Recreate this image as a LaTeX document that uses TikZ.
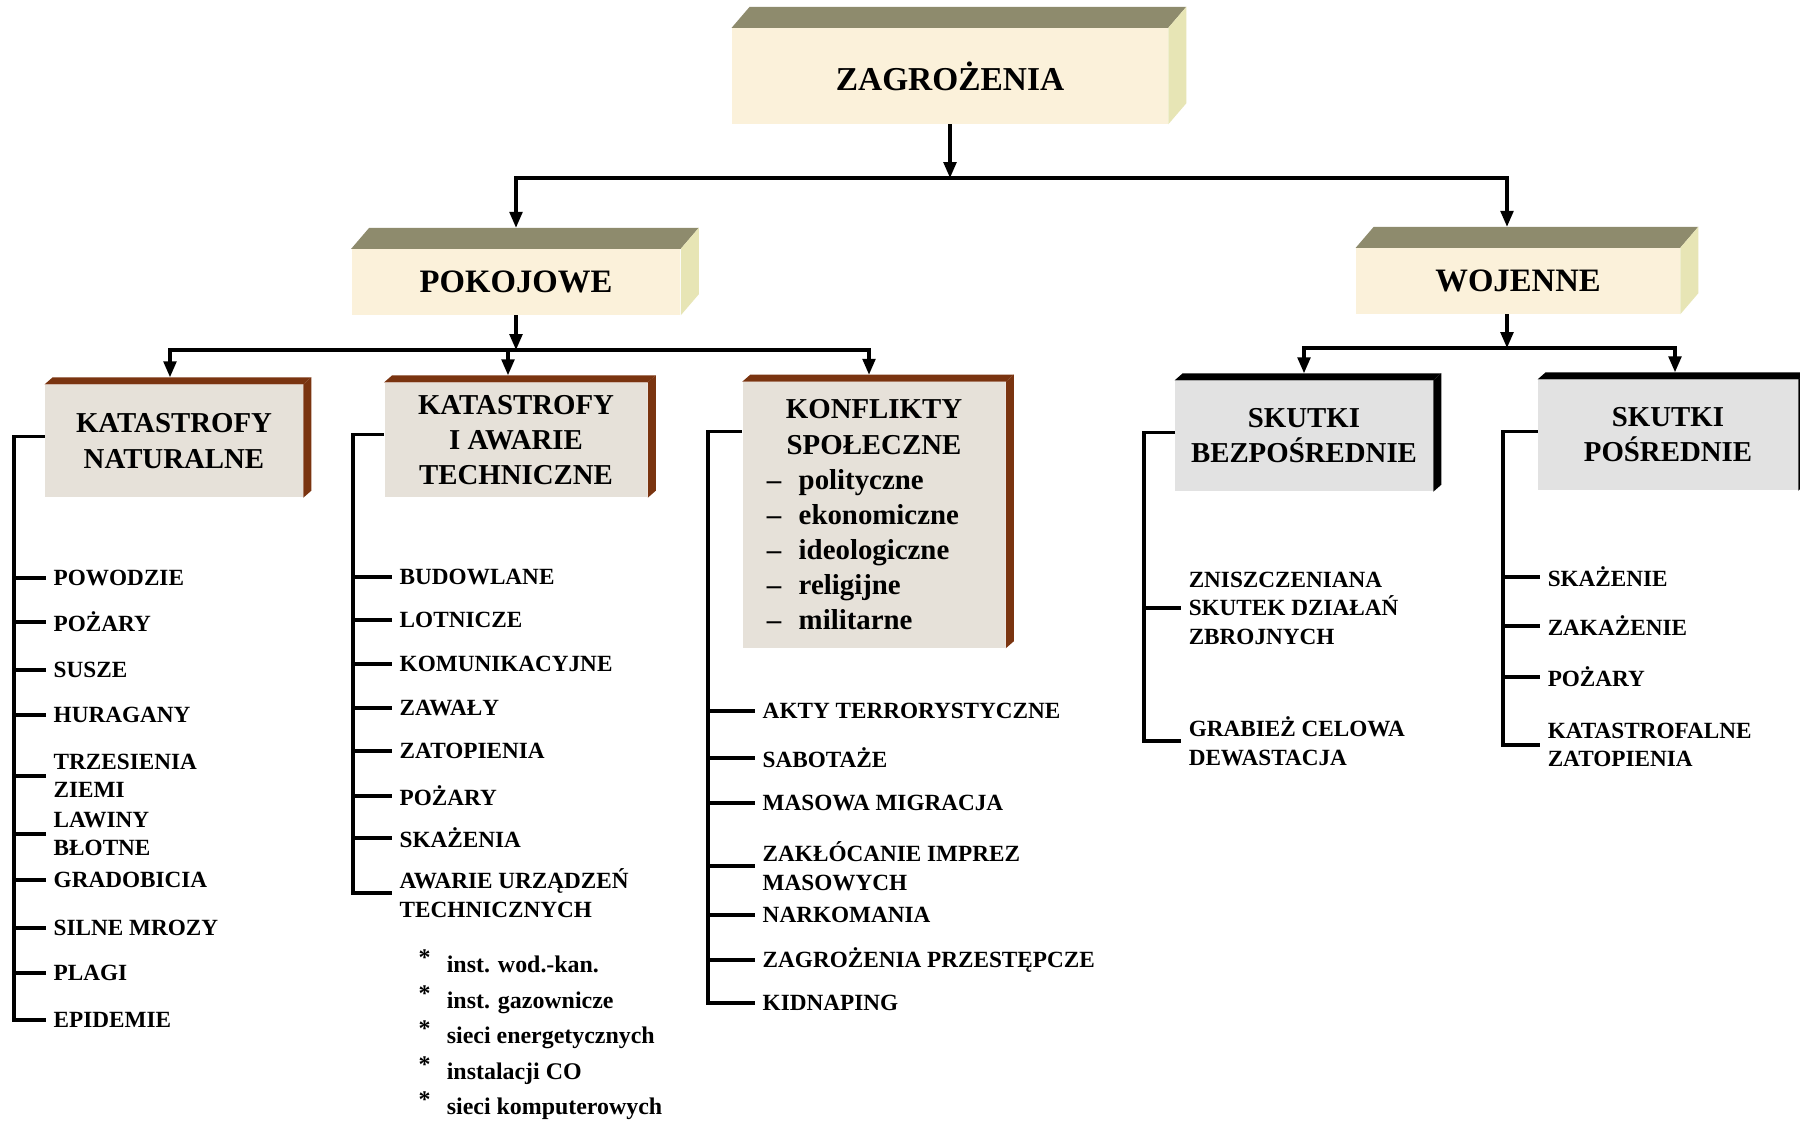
\documentclass[tikz,border=0pt]{standalone}
\usepackage{fontspec}
\setmainfont{Liberation Serif}
\usetikzlibrary{arrows.meta}

\definecolor{cream}{HTML}{FBF1DA}
\definecolor{olivetop}{HTML}{8E8B6D}
\definecolor{paleside}{HTML}{E7E5B5}
\definecolor{stone}{HTML}{E6E1D9}
\definecolor{rust}{HTML}{7A3410}
\definecolor{ash}{HTML}{E2E2E2}

\tikzset{
  conn/.style={line width=0.9pt},
  arr/.style={conn,-{Triangle[length=4.5pt,width=3.6pt]}},
  block/.style={fill=cream,inner sep=0pt,font=\bfseries\blockfontsize},
  peace/.style={fill=stone,inner sep=0pt,align=center,font=\bfseries\boxfontsize},
  war/.style={peace,fill=ash},
  entry/.style={anchor=west,align=left,inner xsep=2pt,inner ysep=0pt,font=\bfseries\entryfontsize},
}

\begin{document}
\begin{tikzpicture}[x=0.01cm,y=-0.01cm]
    \pgfmathsetmacro{\bigdx}{18}
    \pgfmathsetmacro{\bigdy}{21}
    \pgfmathsetmacro{\smalldx}{8}
    \pgfmathsetmacro{\smalldy}{7}
    \providecommand{\blockfontsize}{\fontsize{9.5}{11}\selectfont}
    \providecommand{\midfontsize}{\fontsize{9.3}{11}\selectfont}
    \providecommand{\boxfontsize}{\fontsize{8.2}{10}\selectfont}
    \providecommand{\entryfontsize}{\fontsize{6.6}{8.1}\selectfont}
    \providecommand{\subfontsize}{\fontsize{6.8}{10.1}\selectfont}
    \fill[white] (0,0) rectangle (1800,1121);
    \useasboundingbox (0,0) rectangle (1800,1121);
    % main blocks
    \node[block,minimum width=4.35cm,minimum height=0.95cm] (zag) at (950,76) {ZAGROŻENIA};
    \node[block,font=\bfseries\midfontsize,minimum width=3.28cm,minimum height=0.65cm] (pok) at (516,282) {POKOJOWE};
    \node[block,font=\bfseries\midfontsize,minimum width=3.23cm,minimum height=0.65cm] (woj) at (1518,281) {WOJENNE};
    \foreach \b in {zag,pok,woj} {
        \fill[olivetop] (\b.north west) -- ++(\bigdx,-\bigdy) -- ([shift={(\bigdx,-\bigdy)}]\b.north east) -- (\b.north east) -- cycle;
        \fill[paleside] (\b.north east) -- ++(\bigdx,-\bigdy) -- ([shift={(\bigdx,-\bigdy)}]\b.south east) -- (\b.south east) -- cycle;
    }
    % second row
    \node[peace,minimum width=2.57cm,minimum height=1.12cm] (kn) at (174,441) {KATASTROFY\\NATURALNE};
    \node[peace,minimum width=2.62cm,minimum height=1.14cm] (kt) at (516,440) {KATASTROFY\\I AWARIE\\TECHNICZNE};
    \node[peace,minimum width=2.62cm,minimum height=2.65cm] (ks) at (874,515) {KONFLIKTY\\SPOŁECZNE\\
        \makebox[61pt][l]{–\hspace{5pt}polityczne}\\
        \makebox[61pt][l]{–\hspace{5pt}ekonomiczne}\\
        \makebox[61pt][l]{–\hspace{5pt}ideologiczne}\\
        \makebox[61pt][l]{–\hspace{5pt}religijne}\\
        \makebox[61pt][l]{–\hspace{5pt}militarne}};
    \node[war,minimum width=2.57cm,minimum height=1.10cm] (sb) at (1304,436) {SKUTKI\\BEZPOŚREDNIE};
    \node[war,minimum width=2.59cm,minimum height=1.10cm] (sp) at (1668,435) {SKUTKI\\POŚREDNIE};
    \foreach \b/\c in {kn/rust,kt/rust,ks/rust,sb/black,sp/black} {
        \fill[\c] (\b.north west) -- ++(\smalldx,-\smalldy) -- ([shift={(\smalldx,-\smalldy)}]\b.north east) -- (\b.north east) -- cycle;
        \fill[\c] (\b.north east) -- ++(\smalldx,-\smalldy) -- ([shift={(\smalldx,-\smalldy)}]\b.south east) -- (\b.south east) -- cycle;
    }
    % arrows
    \coordinate (bus1) at (950,178);
    \coordinate (bus2) at (516,350);
    \coordinate (bus3) at (1507,348);
    \draw[arr] (zag.south) -- (bus1);
    \draw[arr] (bus1) -| ([shift={(0,-\bigdy)}]pok.north);
    \draw[arr] (bus1) -| ([shift={(-11,-\bigdy)}]woj.north);
    \draw[arr] (pok.south) -- (bus2);
    \foreach \b/\s in {kn/-4,kt/-8,ks/-5} \draw[arr] (bus2) -| ([shift={(\s,-\smalldy)}]\b.north);
    \draw[arr] ([shift={(-11,0)}]woj.south) -- (bus3);
    \foreach \b/\s in {sb/0,sp/7} \draw[arr] (bus3) -| ([shift={(\s,-\smalldy)}]\b.north);
    % lists
    \foreach \y/\t [count=\i] in {578/POWODZIE,622/POŻARY,670/SUSZE,715/HURAGANY,776/{TRZESIENIA\\ZIEMI},834/{LAWINY\\BŁOTNE},880/GRADOBICIA,928/SILNE MROZY,973/PLAGI,1020/EPIDEMIE}
        \node[entry] (kn\i) at (46,\y) {\t};
    \foreach \y/\t [count=\i] in {577/BUDOWLANE,620/LOTNICZE,664/KOMUNIKACYJNE,708/ZAWAŁY,751/ZATOPIENIA,796/POŻARY,838/SKAŻENIA,893/{AWARIE URZĄDZEŃ\\TECHNICZNYCH}}
        \node[entry] (kt\i) at (392,\y) {\t};
    \node[entry,font=\bfseries\subfontsize,inner xsep=0pt] (ktsub) at (418,1035) {%
        \makebox[8pt][l]{\raisebox{2pt}{*}}inst. wod.-kan.\\
        \makebox[8pt][l]{\raisebox{2pt}{*}}inst. gazownicze\\
        \makebox[8pt][l]{\raisebox{2pt}{*}}sieci energetycznych\\
        \makebox[8pt][l]{\raisebox{2pt}{*}}instalacji CO\\
        \makebox[8pt][l]{\raisebox{2pt}{*}}sieci komputerowych};
    \foreach \y/\t [count=\i] in {711/AKTY TERRORYSTYCZNE,758/SABOTAŻE,803/MASOWA MIGRACJA,866/{ZAKŁÓCANIE IMPREZ\\MASOWYCH},915/NARKOMANIA,960/ZAGROŻENIA PRZESTĘPCZE,1003/KIDNAPING}
        \node[entry] (ks\i) at (755,\y) {\t};
    \foreach \y/\t [count=\i] in {608/{ZNISZCZENIANA\\SKUTEK DZIAŁAŃ\\ZBROJNYCH},741/{GRABIEŻ CELOWA\\DEWASTACJA}}
        \node[entry] (sb\i) at (1181,\y) {\t};
    \foreach \y/\t [count=\i] in {577/SKAŻENIE,626/ZAKAŻENIE,677/POŻARY,745/{KATASTROFALNE\\ZATOPIENIA}}
        \node[entry] (sp\i) at (1540,\y) {\t};
    % brackets
    \coordinate (knc) at (14,441);
    \coordinate (ktc) at (353,440);
    \coordinate (ksc) at (708,515);
    \coordinate (sbc) at (1144,436);
    \coordinate (spc) at (1503,435);
    \draw[conn] ([shift={(0,52)}]kn.north west) -| (knc |- kn10.west) -- (kn10.west);
    \foreach \i in {1,...,9} \draw[conn] (knc |- kn\i.west) -- (kn\i.west);
    \draw[conn] ([shift={(0,52)}]kt.north west) -| (ktc |- kt8.west) -- (kt8.west);
    \foreach \i in {1,...,7} \draw[conn] (ktc |- kt\i.west) -- (kt\i.west);
    \draw[conn] ([shift={(0,50)}]ks.north west) -| (ksc |- ks7.west) -- (ks7.west);
    \foreach \i in {1,...,6} \draw[conn] (ksc |- ks\i.west) -- (ks\i.west);
    \draw[conn] ([shift={(0,52)}]sb.north west) -| (sbc |- sb2.west) -- (sb2.west);
    \draw[conn] (sbc |- sb1.west) -- (sb1.west);
    \draw[conn] ([shift={(0,52)}]sp.north west) -| (spc |- sp4.west) -- (sp4.west);
    \foreach \i in {1,...,3} \draw[conn] (spc |- sp\i.west) -- (sp\i.west);
\end{tikzpicture}
\end{document}
